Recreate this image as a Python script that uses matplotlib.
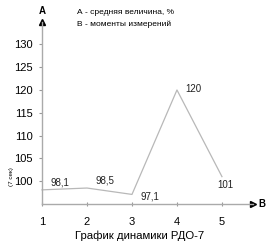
import matplotlib.pyplot as plt

plt.rcParams['font.family'] = ['Liberation Sans', 'DejaVu Sans']

moments = [1, 2, 3, 4, 5]
values = [98.1, 98.5, 97.1, 120, 101]
value_labels = ["98,1", "98,5", "97,1", "120", "101"]
y_ticks = [100, 105, 110, 115, 120, 125, 130]

fig = plt.figure(figsize=(2.7, 2.5), dpi=100)
ax = fig.add_axes([42 / 270, 46 / 250, 211 / 270, 182 / 250])

ax.plot(moments, values, color="#b8b8b8", linewidth=0.9, clip_on=False)

# point labels
offsets = [(0.18, 1.7), (0.18, 1.7), (0.18, -0.4), (0.18, 0.2), (-0.11, -1.9)]
for x, y, lab, (dx, dy) in zip(moments, values, value_labels, offsets):
    ax.text(x + dx, y + dy, lab, fontsize=7, ha="left", va="center", color="#222222")

ax.set_xlim(1, 5.69)
ax.set_ylim(95, 134.9)
ax.set_xticks(moments)
ax.set_yticks(y_ticks)
ax.tick_params(axis="both", labelsize=8, length=2.5, color="#999999", width=0.8)
ax.tick_params(axis="x", pad=8, direction="inout")
ax.tick_params(axis="y", pad=4)
for side in ["top", "right"]:
    ax.spines[side].set_visible(False)
for side in ["left", "bottom"]:
    ax.spines[side].set_color("#aaaaaa")
    ax.spines[side].set_linewidth(1.0)

# arrow heads
ax.plot([0], [1], marker="^", color="black", markersize=4, transform=ax.transAxes, clip_on=False)
ax.plot([1], [0], marker=">", color="black", markersize=4, transform=ax.transAxes, clip_on=False)

fig.text(42 / 270, 1 - 11 / 250, "А", fontsize=7, fontweight="bold", ha="center", va="center")
fig.text(262 / 270, 1 - 204 / 250, "В", fontsize=7, fontweight="bold", ha="center", va="center")
fig.text(77 / 270, 1 - 12 / 250, "А - средняя величина, %", fontsize=6, ha="left", va="center")
fig.text(77 / 270, 1 - 24 / 250, "В - моменты измерений", fontsize=6, ha="left", va="center")
fig.text(140 / 270, 1 - 236 / 250, "График динамики РДО-7", fontsize=8.2, ha="center", va="center")
fig.text(11 / 270, 1 - 177 / 250, "(7 сек)", fontsize=4.5, rotation=90, ha="center", va="center")

fig.savefig("out.png", dpi=100)
